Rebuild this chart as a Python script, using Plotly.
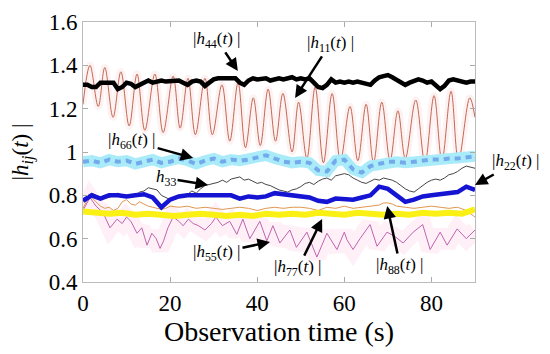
import plotly.graph_objects as go

# ---------------- data ----------------
t_h11 = [0, 1.6, 3.5, 5.0, 6.9, 8.7, 10.6, 12.4, 14.2, 16.5, 18.4, 20.7, 22.3, 24.1, 25.8, 28, 29.7,
         31.9, 33.7, 35.6, 37.3, 39.1, 40.7, 42.5, 44.2, 45.9, 48, 49.5, 51.4, 53.3, 55.2, 57.2, 59.1,
         61.3, 63.1, 65, 66.7, 68.6, 70.5, 72.3, 74, 76.4, 78.5, 80.6, 82.4, 84.5, 86.2, 88.8, 90]
v_h11 = [1.22, 1.40, 1.21, 1.39, 1.16, 1.37, 1.12, 1.36, 1.10, 1.36, 1.09, 1.35, 1.11, 1.34, 1.08, 1.34, 1.08,
         1.31, 1.05, 1.32, 1.02, 1.25, 1.03, 1.29, 1.05, 1.27, 1.00, 1.23, 0.97, 1.30, 0.95, 1.27, 0.96,
         1.21, 0.96, 1.22, 0.95, 1.23, 0.96, 1.19, 0.97, 1.24, 0.95, 1.26, 0.96, 1.28, 0.96, 1.25, 1.16]

t_h44 = list(range(0, 91))
v_h44 = [1.31, 1.31, 1.30, 1.30, 1.32, 1.32, 1.325, 1.32, 1.29, 1.30, 1.32, 1.315, 1.30, 1.31, 1.325,
         1.33, 1.32, 1.325, 1.33, 1.325, 1.325, 1.33, 1.33, 1.32, 1.31, 1.325, 1.33, 1.325, 1.305,
         1.32, 1.335, 1.34, 1.34, 1.335, 1.34, 1.34, 1.32, 1.31, 1.33, 1.34, 1.335, 1.34, 1.34, 1.33,
         1.335, 1.34, 1.335, 1.34, 1.345, 1.335, 1.34, 1.335, 1.34, 1.32, 1.30, 1.295, 1.31, 1.335,
         1.32, 1.325, 1.32, 1.325, 1.32, 1.325, 1.32, 1.31, 1.31, 1.33, 1.345, 1.35, 1.355, 1.345,
         1.335, 1.32, 1.31, 1.32, 1.33, 1.335, 1.33, 1.32, 1.325, 1.31, 1.29, 1.305, 1.33, 1.335,
         1.33, 1.32, 1.32, 1.325, 1.325]

t_h66 = list(range(0, 91, 2))
v_h66 = [0.955, 0.96, 0.95, 0.965, 0.955, 0.96, 0.945, 0.955, 0.965, 0.95, 0.955, 0.97, 0.96, 0.945,
         0.96, 0.97, 0.955, 0.965, 0.96, 0.965, 0.975, 0.985, 0.97, 0.955, 0.95, 0.955, 0.95, 0.915,
         0.91, 0.96, 0.965, 0.92, 0.905, 0.935, 0.945, 0.955, 0.955, 0.95, 0.955, 0.96, 0.965,
         0.965, 0.97, 0.97, 0.975, 0.98]

t_h33 = list(range(0, 91))
v_h33 = [0.78, 0.79, 0.81, 0.80, 0.79, 0.80, 0.79, 0.80, 0.81, 0.80, 0.80, 0.79, 0.80, 0.815, 0.82,
         0.835, 0.83, 0.825, 0.80, 0.79, 0.78, 0.79, 0.80, 0.79, 0.805, 0.82, 0.81, 0.83, 0.845, 0.85,
         0.855, 0.86, 0.87, 0.86, 0.875, 0.88, 0.885, 0.87, 0.875, 0.865, 0.855, 0.86, 0.85, 0.845,
         0.835, 0.825, 0.82, 0.815, 0.825, 0.83, 0.84, 0.855, 0.86, 0.85, 0.865, 0.875, 0.88, 0.87,
         0.89, 0.895, 0.90, 0.895, 0.88, 0.87, 0.86, 0.855, 0.865, 0.875, 0.87, 0.88, 0.875, 0.87,
         0.86, 0.845, 0.83, 0.82, 0.815, 0.83, 0.845, 0.86, 0.87, 0.875, 0.87, 0.88, 0.895, 0.90,
         0.91, 0.925, 0.935, 0.93, 0.925]

t_h22 = list(range(0, 91, 2))
v_h22 = [0.775, 0.80, 0.785, 0.80, 0.80, 0.795, 0.80, 0.805, 0.79, 0.745, 0.78, 0.795, 0.80, 0.80,
         0.80, 0.795, 0.80, 0.80, 0.785, 0.795, 0.79, 0.795, 0.81, 0.805, 0.80, 0.795, 0.79, 0.775,
         0.77, 0.785, 0.78, 0.78, 0.79, 0.80, 0.84, 0.83, 0.80, 0.77, 0.78, 0.795, 0.80, 0.805,
         0.81, 0.815, 0.84, 0.825]

t_h77 = list(range(0, 91, 3))
v_h77 = [0.725, 0.72, 0.715, 0.72, 0.71, 0.715, 0.71, 0.705, 0.71, 0.715, 0.71, 0.705, 0.71, 0.705,
         0.715, 0.71, 0.715, 0.71, 0.72, 0.715, 0.71, 0.72, 0.715, 0.71, 0.715, 0.71, 0.72, 0.715,
         0.72, 0.715, 0.735]

t_h88 = [0, 1, 2, 3, 4, 5, 6, 7, 8, 9, 10, 11, 12, 13, 14, 15, 16, 17, 18, 19, 20, 22, 24, 26, 28, 30,
         32, 34, 36, 38, 40, 42, 44, 46, 48, 50, 52, 54, 56, 58, 60, 62, 64, 66, 68, 69, 70, 71, 72,
         74, 76, 78, 80, 82, 84, 86, 88, 90]
v_h88 = [0.74, 0.78, 0.79, 0.77, 0.75, 0.74, 0.745, 0.73, 0.74, 0.77, 0.78, 0.76, 0.755, 0.77, 0.76,
         0.75, 0.745, 0.74, 0.735, 0.74, 0.75, 0.745, 0.75, 0.74, 0.745, 0.74, 0.735, 0.74, 0.745,
         0.74, 0.73, 0.74, 0.745, 0.74, 0.745, 0.745, 0.74, 0.73, 0.745, 0.74, 0.75, 0.74, 0.745,
         0.75, 0.755, 0.765, 0.765, 0.76, 0.75, 0.745, 0.74, 0.745, 0.75, 0.745, 0.74, 0.745, 0.73, 0.70]

t_h55 = [0, 1.6, 3, 4.6, 6.2, 7.8, 9, 10, 11, 12.4, 13.5, 14.7, 15.8, 16.8, 17.7, 18.5, 19.5, 20.7,
         22, 23, 24.2, 25.3, 26.5, 28, 29.5, 30.5, 32, 33.7, 35.3, 36.7, 38.3, 40.6, 42.2, 43.6, 45.2,
         47.5, 49, 51.4, 53.7, 56, 58.3, 60, 60.6, 62, 63.6, 65.9, 67.5, 69.8, 71.6, 73.5, 75.8, 78,
         79.7, 82, 83.6, 85.9, 88, 90]
v_h55 = [0.73, 0.79, 0.75, 0.72, 0.65, 0.69, 0.67, 0.70, 0.68, 0.625, 0.65, 0.57, 0.625, 0.60, 0.555,
         0.59, 0.65, 0.70, 0.68, 0.66, 0.69, 0.67, 0.66, 0.64, 0.67, 0.70, 0.66, 0.68, 0.62, 0.69,
         0.60, 0.68, 0.59, 0.66, 0.58, 0.64, 0.56, 0.63, 0.515, 0.625, 0.55, 0.63, 0.595, 0.55, 0.60,
         0.665, 0.565, 0.63, 0.61, 0.58, 0.63, 0.665, 0.55, 0.63, 0.57, 0.645, 0.60, 0.64]

x_ticks = [0, 20, 40, 60, 80]
y_ticks = [0.4, 0.6, 0.8, 1.0, 1.2, 1.4, 1.6]
y_tick_labels = ["0.4", "0.6", "0.8", "1", "1.2", "1.4", "1.6"]

# ---------------- figure ----------------
SERIF = "Liberation Serif"
fig = go.Figure()

def line(t, v, color, width, dash="solid", shape="linear"):
    fig.add_trace(go.Scatter(x=t, y=v, mode="lines", showlegend=False, hoverinfo="skip",
                             line=dict(color=color, width=width, dash=dash, shape=shape)))

# halos
line(t_h11, v_h11, "rgba(245,190,190,0.22)", 7, shape="spline")
line(t_h55, v_h55, "rgba(255,170,215,0.18)", 18)

line(t_h11, v_h11, "rgb(195,105,85)", 1, shape="spline")
line(t_h66, v_h66, "rgb(170,235,250)", 11)
line(t_h66, v_h66, "rgb(115,170,235)", 4, dash="6px,5px")
line(t_h55, v_h55, "rgb(190,100,175)", 1)
line(t_h88, v_h88, "rgb(225,150,80)", 1)
line(t_h77, v_h77, "rgb(250,240,20)", 6)
line(t_h33, v_h33, "rgb(70,70,70)", 1)
line(t_h22, v_h22, "rgb(20,20,210)", 4.5)
line(t_h44, v_h44, "black", 4.5)

def lab(s):
    return "|<i>h</i><sub>%s</sub>(<i>t</i>) |" % s

# label text, arrow head (paper coords), text offset from head (px)
labels = [
    (lab("44"), 0.395, 0.812, -21, -31),
    (lab("11"), 0.541, 0.708, 35, -54),
    (lab("66"), 0.281, 0.477, -61, -17),
    ("<i>h</i><sub>33</sub>", 0.319, 0.373, -42, -7),
    (lab("22"), 1.0, 0.373, 41, -23),
    (lab("55"), 0.477, 0.154, -53, 11),
    (lab("77"), 0.610, 0.242, -24, 49),
    (lab("88"), 0.776, 0.292, 13, 60),
]
for txt, xp, yp, ax, ay in labels:
    fig.add_annotation(x=xp, y=yp, xref="paper", yref="paper", text=txt, showarrow=True,
                       ax=ax, ay=ay, arrowhead=2, arrowsize=1, arrowwidth=2.5, arrowcolor="black",
                       font=dict(family=SERIF, size=17, color="black"))

fig.update_layout(
    width=550, height=354, margin=dict(l=75, r=83, t=14, b=80),
    plot_bgcolor="white", paper_bgcolor="white",
    font=dict(family=SERIF, color="black"),
    xaxis=dict(range=[0, 90], tickvals=x_ticks, ticks="inside", ticklen=5, tickcolor="#aaa",
               showline=True, mirror="ticks", linecolor="#bbb", linewidth=1, showgrid=False,
               zeroline=False, automargin=False, tickfont=dict(family=SERIF, size=23),
               title=dict(text="Observation time (s)", font=dict(family=SERIF, size=28), standoff=3)),
    yaxis=dict(range=[0.4, 1.6], tickvals=y_ticks, ticktext=y_tick_labels, ticks="inside",
               ticklen=5, tickcolor="#aaa", showline=True, mirror="ticks", linecolor="#bbb",
               linewidth=1, showgrid=False, zeroline=False, automargin=False,
               tickfont=dict(family=SERIF, size=23),
               title=dict(text="|<i>h</i><sub><i>ij</i></sub>(<i>t</i>) |",
                          font=dict(family=SERIF, size=23), standoff=14)),
)

fig.write_html("out.html")
